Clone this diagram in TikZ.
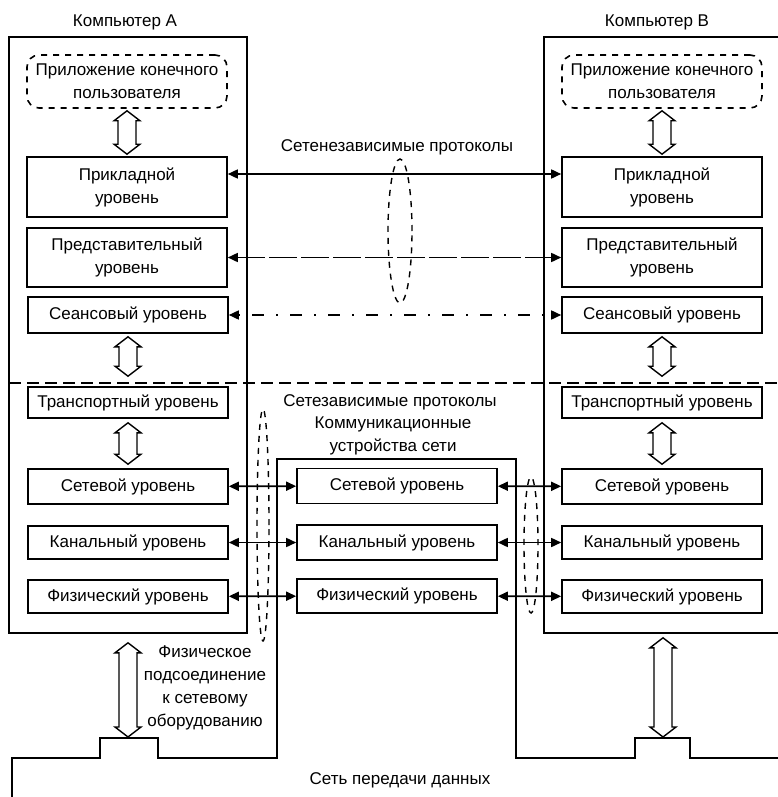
\documentclass[tikz,border=0pt]{standalone}
\usepackage{fontspec}
\setmainfont{Liberation Sans}
\usetikzlibrary{arrows.meta, shapes.geometric, calc}

\newcommand{\hollowarrow}[2]{%
  \draw[line width=0.7pt, line join=miter] let \p1=(#1), \p2=(#2) in
    (\x1,\y1) -- (\x1+6.5pt,\y1-5pt) -- (\x1+4.5pt,\y1-5pt) -- (\x1+4.5pt,\y2+5pt)
    -- (\x1+6.5pt,\y2+5pt) -- (\x1,\y2) -- (\x1-6.5pt,\y2+5pt) -- (\x1-4.5pt,\y2+5pt)
    -- (\x1-4.5pt,\y1-5pt) -- (\x1-6.5pt,\y1-5pt) -- cycle;}

\begin{document}
\begin{tikzpicture}[x=0.5pt, y=-0.5pt, line width=0.8pt,
    font=\fontsize{8.5}{11.5}\selectfont,
    osibox/.style={draw, minimum width=100pt, minimum height=#1, inner sep=1pt, align=center},
    osibox/.default=17pt,
    appbox/.style={osibox=#1, dashed, rounded corners=6pt},
    compbox/.style={draw, minimum width=119pt, minimum height=298pt, inner sep=0pt},
    peerlink/.style={{Triangle[length=5pt,width=4.5pt]}-{Triangle[length=5pt,width=4.5pt]}},
    bubble/.style={dashed, line width=0.7pt},
]
    \useasboundingbox (0,0) rectangle (777,797);

    \node[compbox] (compA) at (128,335) {};
    \node[compbox] (compB) at (663,335) {};
    \node (titleA) at (125,22) {Компьютер А};
    \node (titleB) at (657,22) {Компьютер В};

    \node[appbox=26.5pt] (appA) at (127,81.5) {Приложение конечного\\пользователя};
    \node[osibox=30pt] (prA) at (127,187) {Прикладной\\уровень};
    \node[osibox=29.5pt] (reA) at (127,257.5) {Представительный\\уровень};
    \node[osibox=18pt] (seA) at (128,315) {Сеансовый уровень};
    \node[osibox=15.5pt] (trA) at (128,402.5) {Транспортный уровень};
    \node[osibox=17.5pt] (neA) at (128,486.5) {Сетевой уровень};
    \node[osibox=16.5pt] (chA) at (128,542.5) {Канальный уровень};
    \node[osibox=16.5pt] (phA) at (128,596.5) {Физический уровень};

    \node[appbox=26.5pt] (appB) at (662,81.5) {Приложение конечного\\пользователя};
    \node[osibox=30pt] (prB) at (662,187) {Прикладной\\уровень};
    \node[osibox=29.5pt] (reB) at (662,257.5) {Представительный\\уровень};
    \node[osibox=18pt] (seB) at (662,315) {Сеансовый уровень};
    \node[osibox=15.5pt] (trB) at (662,402.5) {Транспортный уровень};
    \node[osibox=17.5pt] (neB) at (662,486.5) {Сетевой уровень};
    \node[osibox=16.5pt] (chB) at (662,542.5) {Канальный уровень};
    \node[osibox=16.5pt] (phB) at (662,596.5) {Физический уровень};

    \node[osibox=17.5pt] (neM) at (397,486) {Сетевой уровень};
    \node[osibox=17.5pt] (chM) at (397,542.5) {Канальный уровень};
    \node[osibox=17pt] (phM) at (397,596) {Физический уровень};

    \node (indep) at (397,147) {Сетенезависимые протоколы};
    \node (dep) at (390,402) {Сетезависимые протоколы};
    \node[align=center] (comm) at (393,436) {Коммуникационные\\устройства сети};
    \node[align=center] (physconn) at (205,688) {Физическое\\подсоединение\\к сетевому\\оборудованию};
    \node (net) at (400,780) {Сеть передачи данных};

    \draw[dash pattern=on 6pt off 3pt] (9,383) -- (780,383);
    \draw (12,800) -- (12,758) -- (100,758) -- (100,738) -- (158,738) -- (158,758)
        -- (277,758) -- (277,459) -- (516,459) -- (516,758) -- (635,758)
        -- (635,738) -- (690,738) -- (690,758) -- (780,758);
    \coordinate (bumpA) at (128,737);
    \coordinate (bumpB) at (663,737);

    \draw[bubble] (400,231) ellipse [x radius=6pt, y radius=36pt];
    \draw[bubble] (263,525) ellipse [x radius=3pt, y radius=58pt];
    \draw[bubble] (531,545) ellipse [x radius=3.5pt, y radius=34pt];

    \hollowarrow{[yshift=-1pt]appA.south}{[yshift=1pt]prA.north}
    \hollowarrow{[yshift=-1.5pt]seA.south}{[yshift=5pt]trA.north}
    \hollowarrow{[yshift=-2pt]trA.south}{[yshift=2pt]neA.north}
    \hollowarrow{[yshift=-1pt]appB.south}{[yshift=1pt]prB.north}
    \hollowarrow{[yshift=-1.5pt]seB.south}{[yshift=5pt]trB.north}
    \hollowarrow{[yshift=-2pt]trB.south}{[yshift=2pt]neB.north}
    \hollowarrow{[yshift=-4.5pt]compA.south}{bumpA}
    \hollowarrow{[yshift=-2pt]compB.south}{bumpB}

    \draw[peerlink] ([yshift=6.5pt]prA.east) -- ([yshift=6.5pt]prB.west);
    \draw[peerlink, dash pattern=on 14pt off 2pt] (reA.east) -- (reB.west);
    \draw[peerlink, dash pattern=on 1pt off 6pt on 6pt off 6pt] (seA.east) -- (seB.west);

    \draw[peerlink] (neA) -- (neM);
    \draw[peerlink] (chA) -- (chM);
    \draw[peerlink] (phA) -- (phM);
    \draw[peerlink] (neM) -- (neB);
    \draw[peerlink] (chM) -- (chB);
    \draw[peerlink] (phM) -- (phB);
\end{tikzpicture}
\end{document}
